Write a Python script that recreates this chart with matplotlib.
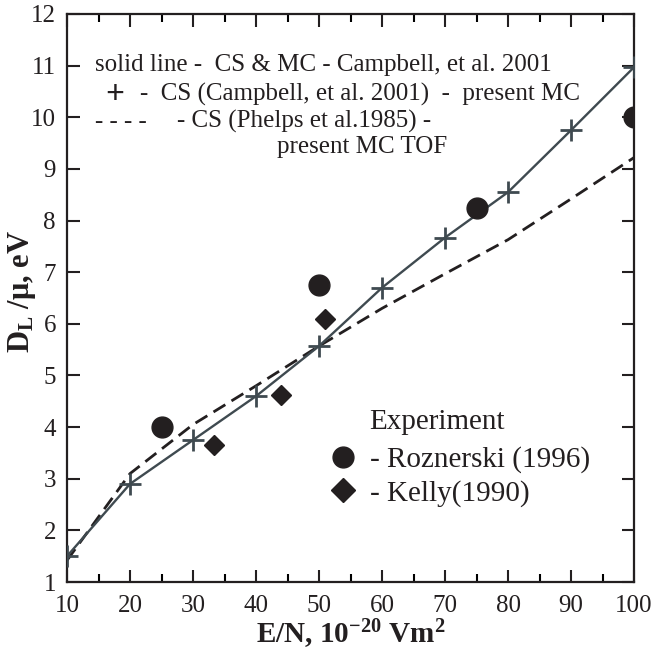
import matplotlib
matplotlib.use("Agg")
import matplotlib.pyplot as plt
from matplotlib.ticker import MultipleLocator

plt.rcParams['font.family'] = ['Liberation Serif', 'DejaVu Serif']
plt.rcParams['mathtext.fontset'] = 'custom'
plt.rcParams['mathtext.rm'] = 'Liberation Serif'
plt.rcParams['mathtext.bf'] = 'Liberation Serif:bold'
plt.rcParams['mathtext.it'] = 'Liberation Serif:italic'

# ---- data ----
en_mc = [10, 20, 30, 40, 50, 60, 70, 80, 90, 100]
dl_mc = [1.5, 2.9, 3.75, 4.6, 5.57, 6.7, 7.67, 8.55, 9.75, 10.97]

en_tof = [10, 20, 30, 40, 50, 60, 70, 80, 90, 100]
dl_tof = [1.42, 3.1, 4.05, 4.8, 5.57, 6.3, 6.97, 7.63, 8.42, 9.22]

en_rozn = [25, 50, 75, 100]
dl_rozn = [4.0, 6.75, 8.25, 10.0]

en_kelly = [33.3, 44, 51]
dl_kelly = [3.65, 4.62, 6.1]

line_color = '#3f4a50'
ink = '#231f20'

fig = plt.figure(figsize=(6.53, 6.54), dpi=100)
ax = fig.add_axes([0.1026, 0.110, 0.8684, 0.8686])

ax.plot(en_tof, dl_tof, color=ink, lw=2.0, dashes=(5, 2.6), zorder=2)
ax.plot(en_mc, dl_mc, color=line_color, lw=1.7, marker='+', ms=16, mew=2.0, zorder=3)
h1, = ax.plot(en_rozn, dl_rozn, ls='none', marker='o', ms=15, color=ink, mec=ink, zorder=4,
              label='- Roznerski (1996)')
h2, = ax.plot(en_kelly, dl_kelly, ls='none', marker='D', ms=10, color=ink, mec=ink, zorder=4,
              label='- Kelly(1990)')

ax.set_xlim(10, 100)
ax.set_ylim(1, 12)
ax.xaxis.set_major_locator(MultipleLocator(10))
ax.xaxis.set_minor_locator(MultipleLocator(5))
ax.yaxis.set_major_locator(MultipleLocator(1))
ax.tick_params(axis='both', which='major', direction='in', length=9, width=1.5,
               top=True, right=True, labelsize=18, colors=ink)
ax.tick_params(axis='x', which='major', pad=9)
ax.tick_params(axis='y', which='major', pad=8)
ax.tick_params(axis='both', which='minor', direction='in', length=6, width=1.5,
               top=True, right=True)
for s in ax.spines.values():
    s.set_linewidth(1.6)
    s.set_color(ink)

ax.set_xlabel(r'E/N, 10$^{\mathbf{-20}}$ Vm$^{\mathbf{2}}$', fontsize=21, fontweight='bold',
              color=ink, labelpad=1)
ax.set_ylabel(r'D$_{\mathbf{L}}$ /μ, eV', fontsize=22, fontweight='bold', color=ink)
ax.yaxis.set_label_coords(-0.052, 0.512)

# upper annotation block
fs = 18
ax.text(14.4, 11.02, 'solid line -  CS & MC - Campbell, et al. 2001', fontsize=fs,
        va='center', ha='left', color=ink)
ax.text(17.6, 10.44, '+', fontsize=24, fontweight='bold', va='center', ha='center', color=ink)
ax.text(21.6, 10.44, '-  CS (Campbell, et al. 2001)  -  present MC', fontsize=fs,
        va='center', ha='left', color=ink)
ax.text(14.4, 9.91, '- - - -', fontsize=fs, va='center', ha='left', color=ink)
ax.text(27.4, 9.91, '- CS (Phelps et al.1985) -', fontsize=fs, va='center', ha='left', color=ink)
ax.text(43.4, 9.43, 'present MC TOF', fontsize=fs, va='center', ha='left', color=ink)

# experiment legend
ax.text(58.0, 4.10, 'Experiment', fontsize=21, va='center', ha='left', color=ink)
leg = ax.legend(handles=[h1, h2], loc='upper left', bbox_to_anchor=(0.467, 0.239),
                frameon=False, fontsize=21, handlelength=0.8, handletextpad=0.5,
                borderpad=0, borderaxespad=0, labelspacing=0.22, numpoints=1,
                markerscale=1.0)
for t in leg.get_texts():
    t.set_color(ink)
for lh in leg.legend_handles:
    lh.set_markersize(15 if lh.get_marker() == 'o' else 12)

fig.savefig('out.png', dpi=100)
